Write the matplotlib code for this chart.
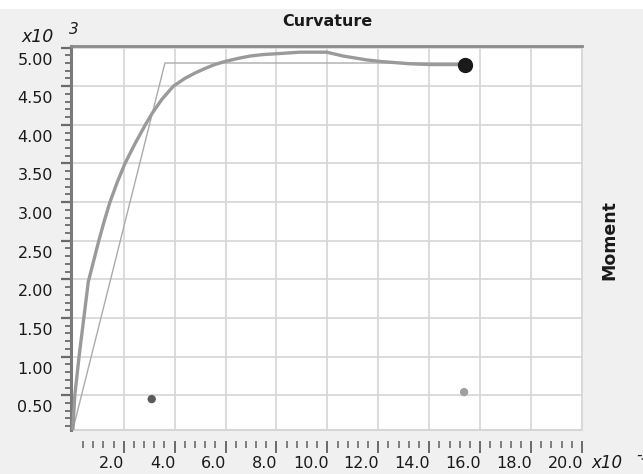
import matplotlib
matplotlib.use('Agg')
import matplotlib.pyplot as plt
import matplotlib.transforms as mtransforms
from matplotlib.patches import Rectangle
from matplotlib.ticker import FixedLocator, FormatStrFormatter

# --------------------------------------------------------------------
# DATA  (curvature in 1e-3, moment in 1e3)
# --------------------------------------------------------------------

# Moment-curvature response
curve_x = [0.0, 0.08, 0.25, 0.61, 1.03, 1.25, 1.46, 1.75, 2.05, 2.45, 2.85,
           3.12, 3.5, 3.95, 4.4, 4.8, 5.2, 5.58, 5.98, 6.5, 6.96, 7.5, 8.01,
           8.92, 9.97, 10.62, 11.54, 12.07, 13.25, 14.03, 15.4]
curve_y = [0.05, 0.5, 1.01, 1.97, 2.51, 2.77, 3.0, 3.26, 3.5, 3.76, 4.0,
           4.15, 4.33, 4.5, 4.6, 4.67, 4.73, 4.78, 4.82, 4.86, 4.89, 4.91, 4.92,
           4.94, 4.94, 4.89, 4.84, 4.82, 4.79, 4.78, 4.78]

# Bilinear idealisation
bilin_x = [0.0, 3.62, 15.4]
bilin_y = [0.05, 4.80, 4.80]

# Last computed point
end_x = [15.4]
end_y = [4.78]

# Two loose markers near the bottom
dot_x = [3.10, 15.37]
dot_y = [0.45, 0.54]
dot_colors = ['#5a5a5a', '#9e9e9e']

# Axis ticks
x_major = [2.0, 4.0, 6.0, 8.0, 10.0, 12.0, 14.0, 16.0, 18.0, 20.0]
y_major = [0.5, 1.0, 1.5, 2.0, 2.5, 3.0, 3.5, 4.0, 4.5, 5.0]
x_minor = [i * 0.4 for i in range(1, 50) if i % 5 != 0]
y_minor = [i * 0.1 for i in range(1, 50) if i % 5 != 0]

# --------------------------------------------------------------------
# PLOT
# --------------------------------------------------------------------

W, H = 643, 474
fig = plt.figure(figsize=(W / 100, H / 100), dpi=100)
fig.patch.set_facecolor('#f0f0f0')
fig.add_artist(Rectangle((0, 1 - 9 / H), 1, 9 / H, transform=fig.transFigure,
                         facecolor='white', edgecolor='none', zorder=0))

left, right, top, bottom = 71, 582, 46, 430
ax = fig.add_axes([left / W, 1 - bottom / H, (right - left) / W, (bottom - top) / H])
ax.set_facecolor('white')

ax.plot(bilin_x, bilin_y, color='#ababab', lw=1.0, zorder=3)
ax.plot(curve_x, curve_y, color='#9a9a9a', lw=2.4, zorder=4,
        solid_joinstyle='round', solid_capstyle='round')
ax.plot(end_x, end_y, 'o', color='#1a1a1a', ms=10, zorder=5)
ax.scatter(dot_x, dot_y, s=36, c=dot_colors, zorder=5, linewidths=0)

ax.set_xlim(-0.07, 20.0)
ax.set_ylim(0.05, 5.02)

ax.xaxis.set_major_locator(FixedLocator(x_major))
ax.xaxis.set_minor_locator(FixedLocator(x_minor))
ax.yaxis.set_major_locator(FixedLocator(y_major))
ax.yaxis.set_minor_locator(FixedLocator(y_minor))
ax.xaxis.set_major_formatter(FormatStrFormatter('%.1f'))
ax.yaxis.set_major_formatter(FormatStrFormatter('%.2f'))
ax.grid(True, which='major', color='#d6d6d6', lw=1.2)
ax.set_axisbelow(True)

# frame
ax.spines['left'].set_color('#7a7a7a')
ax.spines['left'].set_linewidth(2.2)
ax.spines['top'].set_color('#8a8a8a')
ax.spines['top'].set_linewidth(2.0)
ax.spines['right'].set_color('#d6d6d6')
ax.spines['right'].set_linewidth(1.2)
ax.spines['bottom'].set_position(('outward', 8))
ax.spines['bottom'].set_visible(False)
ax.axhline(ax.get_ylim()[0], color='#d6d6d6', lw=1.5, clip_on=False)

ax.tick_params(axis='y', which='major', length=7.5, width=1.6, color='#6a6a6a',
               labelsize=11.5, labelcolor='#1a1a1a')
ax.tick_params(axis='y', which='minor', length=4.5, width=1.3, color='#6a6a6a')
ax.tick_params(axis='x', which='major', length=8.5, width=1.4, color='#6a6a6a',
               labelsize=11.5, labelcolor='#1a1a1a')
ax.tick_params(axis='x', which='minor', length=5, width=1.2, color='#6a6a6a')

# tick labels: y labels sit below their tick, x labels end at their tick
px = fig.dpi_scale_trans
y_lab_tr = (mtransforms.blended_transform_factory(ax.transAxes, ax.transData)
            + mtransforms.ScaledTranslation(-18 / 100, -17 / 100, px))
for tick in ax.yaxis.get_major_ticks(len(y_major)):
    tick.label1.set_transform(y_lab_tr)
    tick.label1.set_ha('right')
    tick.label1.set_va('baseline')
x_lab_tr = (mtransforms.blended_transform_factory(ax.transData, ax.transAxes)
            + mtransforms.ScaledTranslation(1 / 100, -38 / 100, px))
for tick in ax.xaxis.get_major_ticks(len(x_major)):
    tick.label1.set_transform(x_lab_tr)
    tick.label1.set_ha('right')
    tick.label1.set_va('baseline')

# titles and multipliers
fig.text(327 / W, 1 - 21 / H, 'Curvature', ha='center', va='center',
         fontsize=11.5, fontweight='bold', color='#1a1a1a')
fig.text(609 / W, 1 - 240 / H, 'Moment', ha='center', va='center',
         rotation=90, fontsize=12.5, fontweight='bold', color='#1a1a1a')
fig.text(21 / W, 1 - 37 / H, 'x10', ha='left', va='center',
         fontsize=12.5, style='italic', color='#1a1a1a')
fig.text(69 / W, 1 - 30 / H, '3', ha='left', va='center',
         fontsize=11, style='italic', color='#1a1a1a')
fig.text(591 / W, 1 - 463 / H, 'x10', ha='left', va='center',
         fontsize=12, style='italic', color='#1a1a1a')
fig.text(636 / W, 1 - 456 / H, '-3', ha='left', va='center',
         fontsize=11, style='italic', color='#1a1a1a')

plt.savefig('out.png', dpi=100, facecolor=fig.get_facecolor())
